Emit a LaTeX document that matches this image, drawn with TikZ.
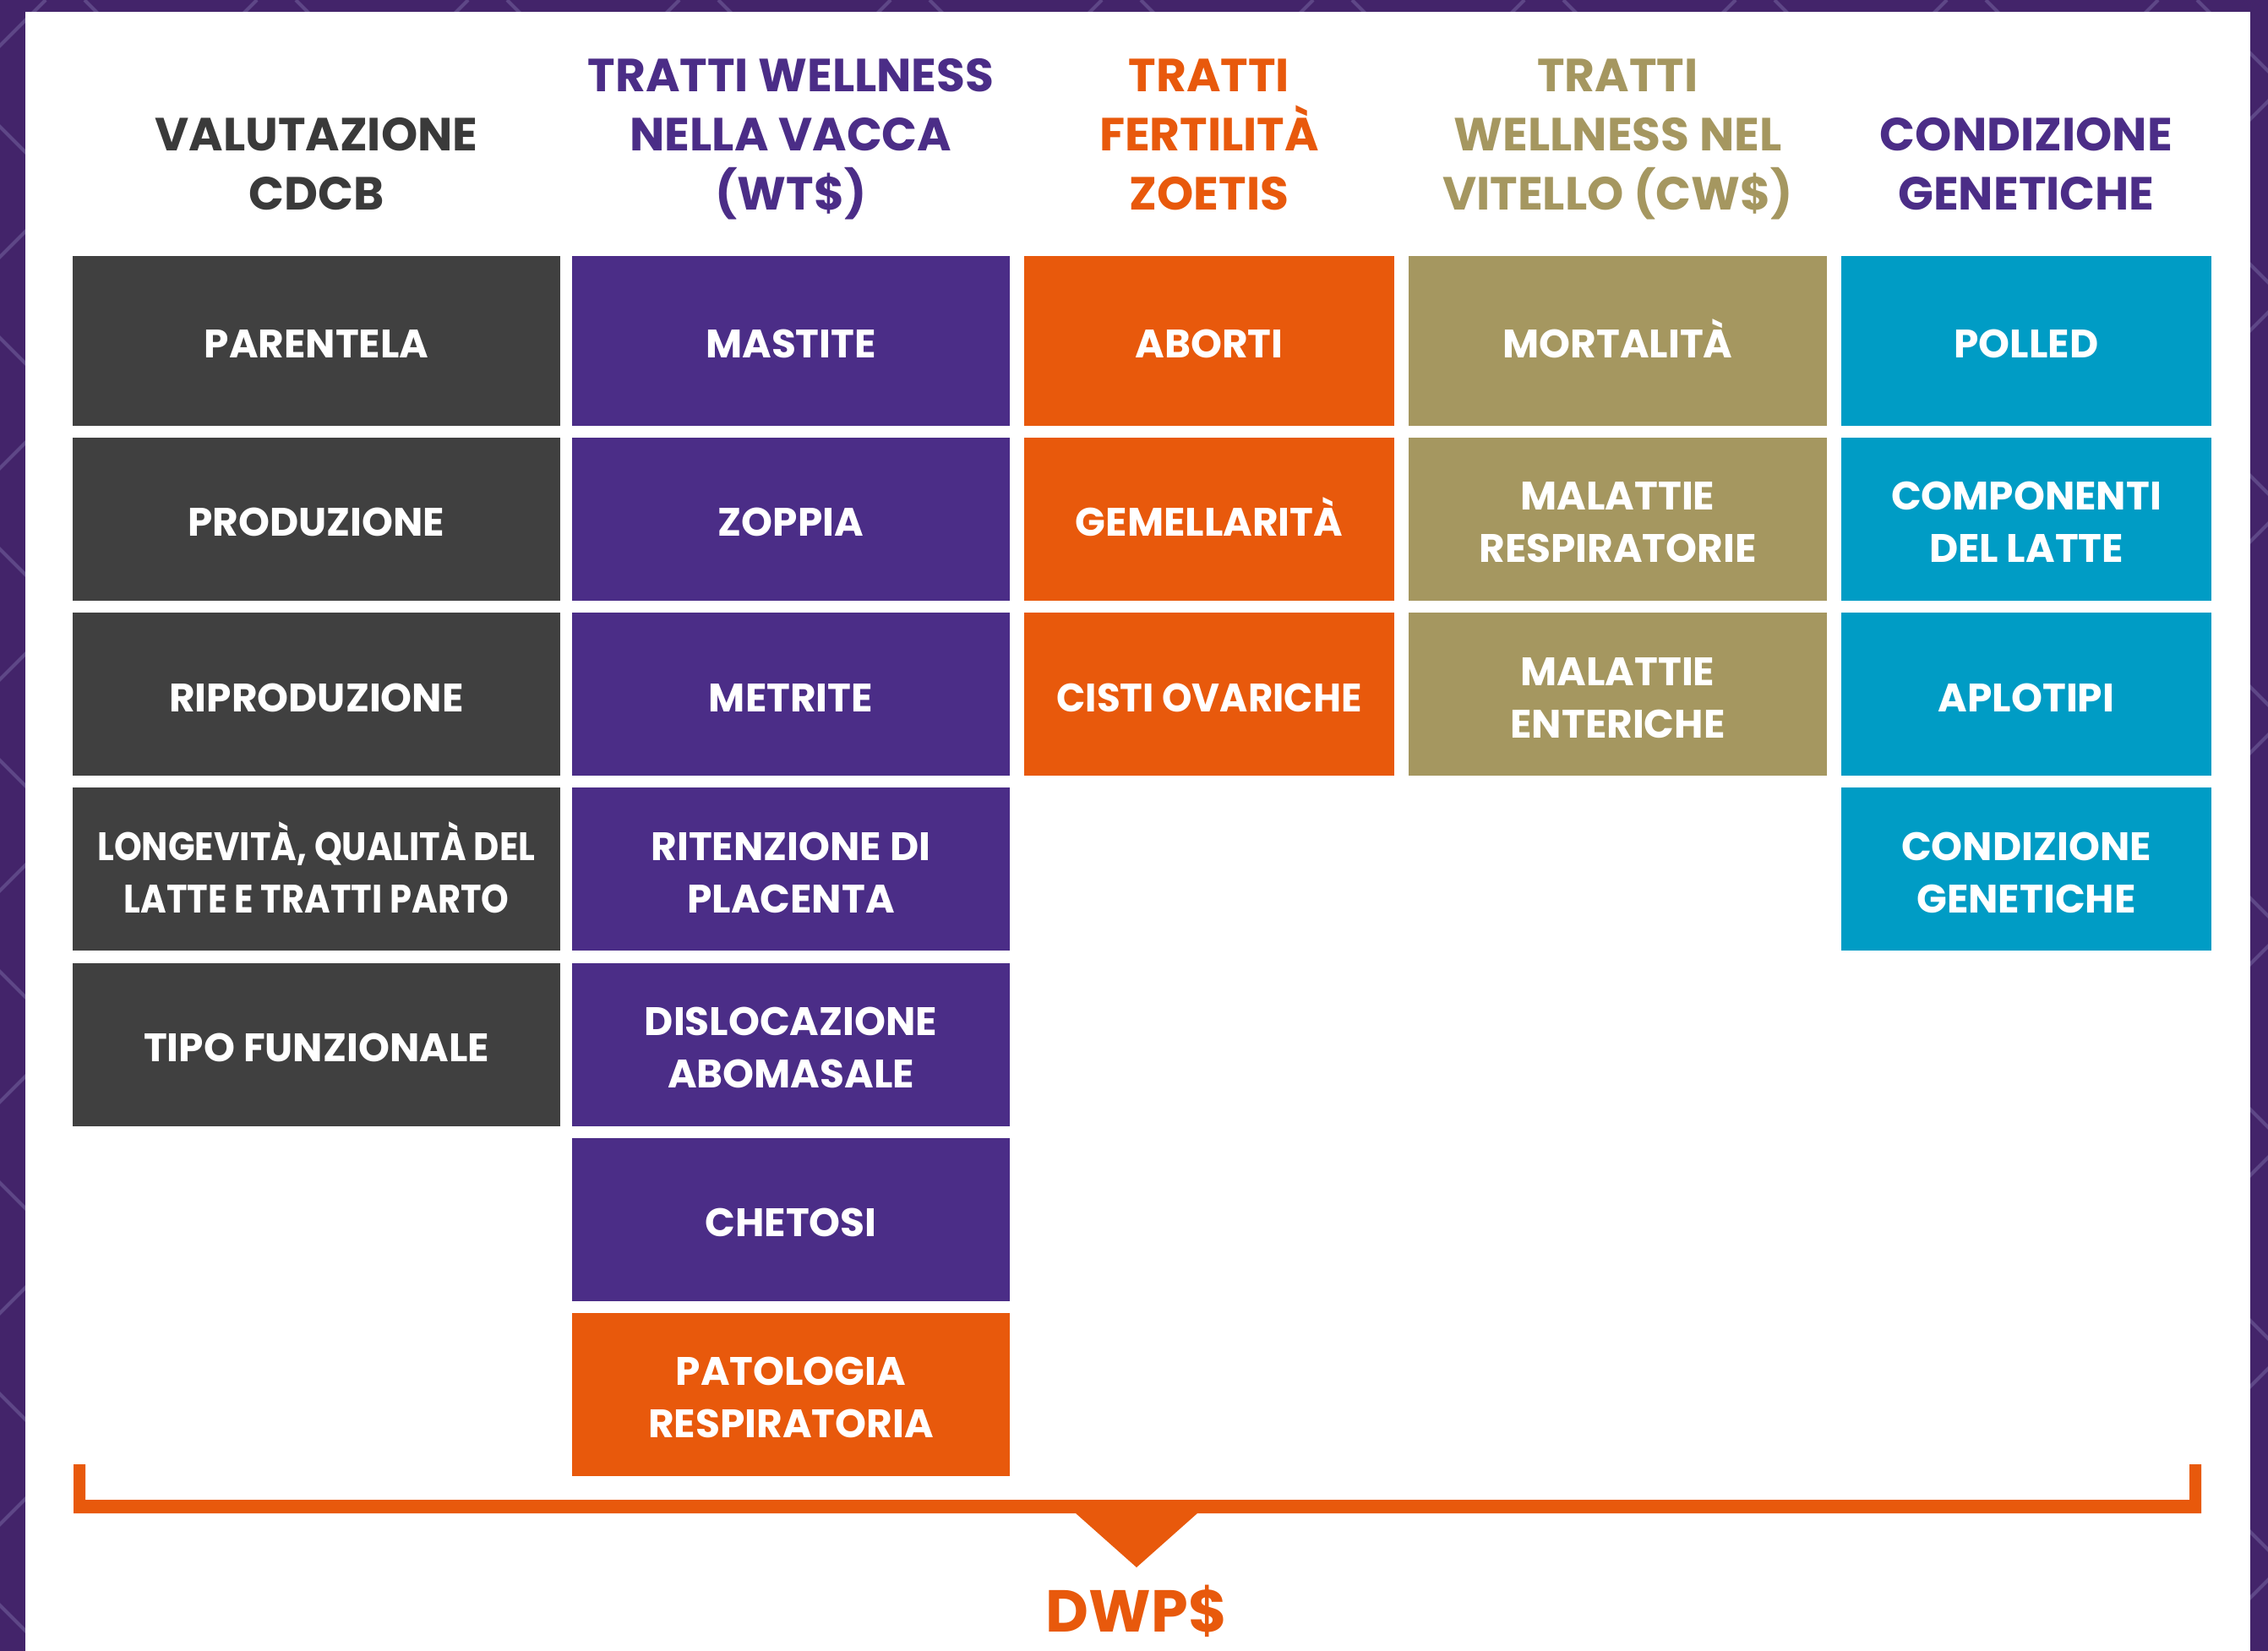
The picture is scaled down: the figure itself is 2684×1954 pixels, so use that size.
\documentclass[tikz,border=0pt]{standalone}
\usepackage{fontspec}
\usepackage{graphicx}
\setmainfont{Poppins}
\definecolor{bgpurple}{HTML}{43246A}
\definecolor{bgline}{HTML}{5E4787}
\definecolor{cgray}{HTML}{404040}
\definecolor{hgray}{HTML}{3A3A3A}
\definecolor{cpurple}{HTML}{4B2D87}
\definecolor{corange}{HTML}{E8590C}
\definecolor{ckhaki}{HTML}{A59760}
\definecolor{ccyan}{HTML}{009CC5}
\newcommand\cellfont{\fontsize{23.5}{31}\selectfont\bfseries}
\newcommand\hdrfont{\fontsize{27.5}{35}\selectfont\bfseries}
\newcommand\sqz[1]{\scalebox{0.885}[1]{#1}}
\tikzset{
  cell/.style={draw=none, inner sep=0pt, minimum height=96.5pt, text=white, font=\cellfont,
    align=center, text depth=0pt, text height=20.4pt},
  two/.style={text height=51.4pt},
  cola/.style={cell, minimum width=288.5pt, fill=cgray},
  colb/.style={cell, minimum width=259pt, fill=cpurple},
  colc/.style={cell, minimum width=219pt, fill=corange},
  cold/.style={cell, minimum width=247.5pt, fill=ckhaki},
  cole/.style={cell, minimum width=219pt, fill=ccyan},
  first/.style={minimum height=100.5pt},
  hdr/.style={font=\hdrfont, align=center, inner sep=0pt, text depth=0pt},
  hdrtwo/.style={hdr, text height=54.2pt},
  hdrthree/.style={hdr, text height=89.2pt},
}
\begin{document}
\begin{tikzpicture}[x=0.5pt,y=-0.5pt]
\useasboundingbox (0,0) rectangle (2684,1954);
\fill[bgpurple] (0,0) rectangle (2684,1954);
\begin{scope}
\clip (0,0) rectangle (2684,1954);
\foreach \k in {-2400,-2150,...,2800}{
  \draw[bgline, line width=2pt] (\k,0) -- ++(1954,1954);
  \draw[bgline, line width=2pt] (\k+1954,0) -- ++(-1954,1954);
}
\end{scope}
\fill[white] (30,14) rectangle (2663,1954);

% headers
\node[hdrtwo, text=hgray] (h1) at (374.5,194) {VALUTAZIONE\\CDCB};
\node[hdrthree, text=cpurple] (h2) at (936,159) {TRATTI WELLNESS\\NELLA VACCA\\(WT\$)};
\node[hdrthree, text=corange] (h3) at (1431,159) {TRATTI\\FERTILITÀ\\ZOETIS};
\node[hdrthree, text=ckhaki] (h4) at (1914.5,159) {TRATTI\\WELLNESS NEL\\VITELLO (CW\$)};
\node[hdrtwo, text=cpurple] (h5) at (2398,194) {CONDIZIONE\\GENETICHE};

% column 1
\node[cola, first] (a1) at (374.5,403.5) {PARENTELA};
\node[cola] (a2) at (374.5,614.5) {PRODUZIONE};
\node[cola] (a3) at (374.5,821.7) {RIPRODUZIONE};
\node[cola, two] (a4) at (374.5,1028.9) {\sqz{LONGEVITÀ, QUALITÀ DEL}\\\sqz{LATTE E TRATTI PARTO}};
\node[cola] (a5) at (374.5,1236.1) {TIPO FUNZIONALE};
% column 2
\node[colb, first] (b1) at (936,403.5) {MASTITE};
\node[colb] (b2) at (936,614.5) {ZOPPIA};
\node[colb] (b3) at (936,821.7) {METRITE};
\node[colb, two] (b4) at (936,1028.9) {RITENZIONE DI\\PLACENTA};
\node[colb, two] (b5) at (936,1236.1) {DISLOCAZIONE\\ABOMASALE};
\node[colb] (b6) at (936,1443.3) {CHETOSI};
\node[colb, two, fill=corange] (b7) at (936,1650.5) {PATOLOGIA\\RESPIRATORIA};
% column 3
\node[colc, first] (c1) at (1431,403.5) {ABORTI};
\node[colc] (c2) at (1431,614.5) {GEMELLARITÀ};
\node[colc] (c3) at (1431,821.7) {\scalebox{0.96}[1]{CISTI OVARICHE}};
% column 4
\node[cold, first] (d1) at (1914.5,403.5) {MORTALITÀ};
\node[cold, two] (d2) at (1914.5,614.5) {MALATTIE\\RESPIRATORIE};
\node[cold, two] (d3) at (1914.5,821.7) {MALATTIE\\ENTERICHE};
% column 5
\node[cole, first] (e1) at (2398,403.5) {POLLED};
\node[cole, two] (e2) at (2398,614.5) {COMPONENTI\\DEL LATTE};
\node[cole] (e3) at (2398,821.7) {APLOTIPI};
\node[cole, two] (e4) at (2398,1028.9) {CONDIZIONE\\GENETICHE};

% bracket
\coordinate (bl) at (87,1733);
\coordinate (br) at (2605,1733);
\fill[corange] (bl) -- (101,1733) -- (101,1775) -- (2591,1775) -- (2591,1733)
  -- (br) -- (2605,1791) -- (1417,1791) -- (1345,1855) -- (1273,1791)
  -- (87,1791) -- cycle;
\node[font=\fontsize{35}{42}\selectfont\bfseries, text=corange, inner sep=0pt,
  text depth=0pt, text height=24.5pt] (dwp) at (1345,1907) {DWP\$};
\end{tikzpicture}
\end{document}
